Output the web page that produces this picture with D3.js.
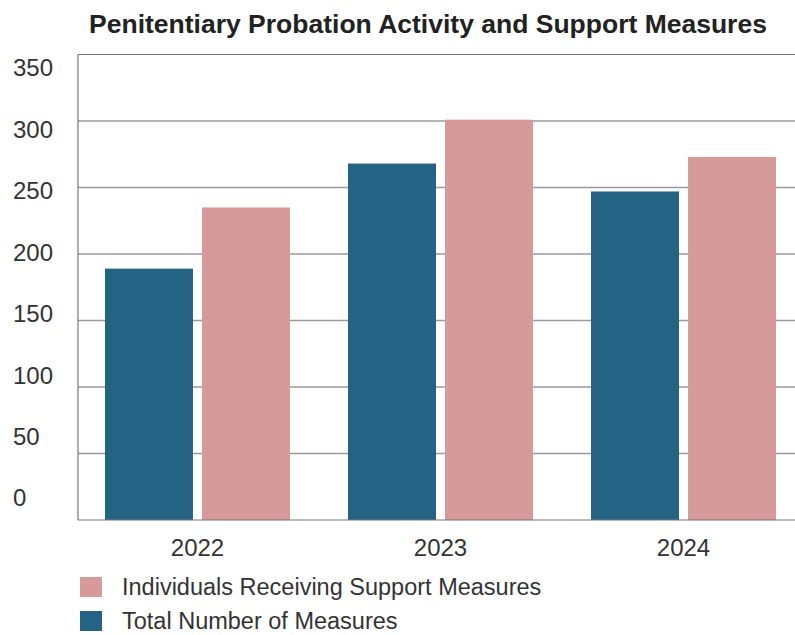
<!DOCTYPE html>
<html>
<head>
<meta charset="utf-8">
<script src="https://cdn.jsdelivr.net/npm/d3@7"></script>
<style>
  html, body { margin: 0; padding: 0; background: #fff; }
  svg { display: block; font-family: "Liberation Sans", Arial, Helvetica, sans-serif; }
</style>
</head>
<body>
<svg id="chart" width="795" height="635"></svg>
<script>
// Data
const years = ["2022", "2023", "2024"];
const totalMeasures = [189, 268, 247];
const individualsSupported = [235, 301, 273];
const yTickLabels = ["350", "300", "250", "200", "150", "100", "50", "0"];
const gridValues = [0, 50, 100, 150, 200, 250, 300, 350];
const seriesNames = ["Total Number of Measures", "Individuals Receiving Support Measures"];
const legendOrder = ["Individuals Receiving Support Measures", "Total Number of Measures"];

const colors = {
  "Total Number of Measures": "#246384",
  "Individuals Receiving Support Measures": "#d69a9a"
};

const svg = d3.select("#chart");
const W = 795, H = 635;
const plot = { left: 78, top: 54.5, right: 803, bottom: 520 };

const x = d3.scaleBand().domain(years)
  .range([plot.left, plot.right]).paddingInner(0.2387).paddingOuter(0.111);
const xSub = d3.scaleBand().domain(seriesNames)
  .range([0, x.bandwidth()]).paddingInner(0.093);
const y = d3.scaleLinear().domain([0, 350]).range([plot.bottom, plot.top]);
// tick labels sit on their own evenly spaced rows down the left margin
const yLabelPos = d3.scalePoint().domain(yTickLabels).range([68, 498]);

// Horizontal grid lines
svg.append("g").selectAll("line").data(gridValues.filter(v => v > 0 && v < 350)).join("line")
  .attr("x1", plot.left).attr("x2", W)
  .attr("y1", d => y(d)).attr("y2", d => y(d))
  .attr("stroke", "#9a9a9a").attr("stroke-width", 1.5);

// Bars
const rows = years.map((yr, i) => ({
  year: yr,
  values: [
    { key: seriesNames[0], value: totalMeasures[i] },
    { key: seriesNames[1], value: individualsSupported[i] }
  ]
}));

svg.append("g").selectAll("g").data(rows).join("g")
  .attr("transform", d => `translate(${x(d.year)},0)`)
  .selectAll("rect").data(d => d.values).join("rect")
  .attr("x", d => xSub(d.key))
  .attr("width", xSub.bandwidth())
  .attr("y", d => y(d.value))
  .attr("height", d => y(0) - y(d.value))
  .attr("fill", d => colors[d.key]);

// Frame: left, top and bottom edges
const frame = svg.append("g").attr("stroke", "#777").attr("stroke-width", 1.2).attr("fill", "none");
frame.append("line").attr("x1", plot.left).attr("x2", plot.left).attr("y1", y(350)).attr("y2", y(0));
frame.append("line").attr("x1", plot.left).attr("x2", W).attr("y1", y(350)).attr("y2", y(350));
frame.append("line").attr("x1", plot.left).attr("x2", W).attr("y1", y(0)).attr("y2", y(0));

// Y labels
svg.append("g").selectAll("text").data(yTickLabels).join("text")
  .attr("x", 13).attr("y", d => yLabelPos(d))
  .attr("dy", "0.35em")
  .attr("font-size", 24).attr("fill", "#333")
  .text(d => d);

// X labels
svg.append("g").selectAll("text").data(years).join("text")
  .attr("x", d => x(d) + x.bandwidth() / 2).attr("y", 548)
  .attr("dy", "0.35em").attr("text-anchor", "middle")
  .attr("font-size", 24).attr("fill", "#333")
  .text(d => d);

// Title
svg.append("text")
  .attr("x", 428).attr("y", 24).attr("dy", "0.35em")
  .attr("text-anchor", "middle")
  .attr("font-size", 26.5).attr("font-weight", "bold").attr("fill", "#222")
  .text("Penitentiary Probation Activity and Support Measures");

// Legend
const legendY = d3.scalePoint().domain(legendOrder).range([587, 621]);
const lg = svg.append("g").selectAll("g").data(legendOrder).join("g")
  .attr("transform", d => `translate(80,${legendY(d)})`);
lg.append("rect").attr("x", 0).attr("y", -10).attr("width", 22).attr("height", 20)
  .attr("fill", d => colors[d]);
lg.append("text").attr("x", 42).attr("y", 0).attr("dy", "0.35em")
  .attr("font-size", 23.5).attr("fill", "#333")
  .text(d => d);
</script>
</body>
</html>
